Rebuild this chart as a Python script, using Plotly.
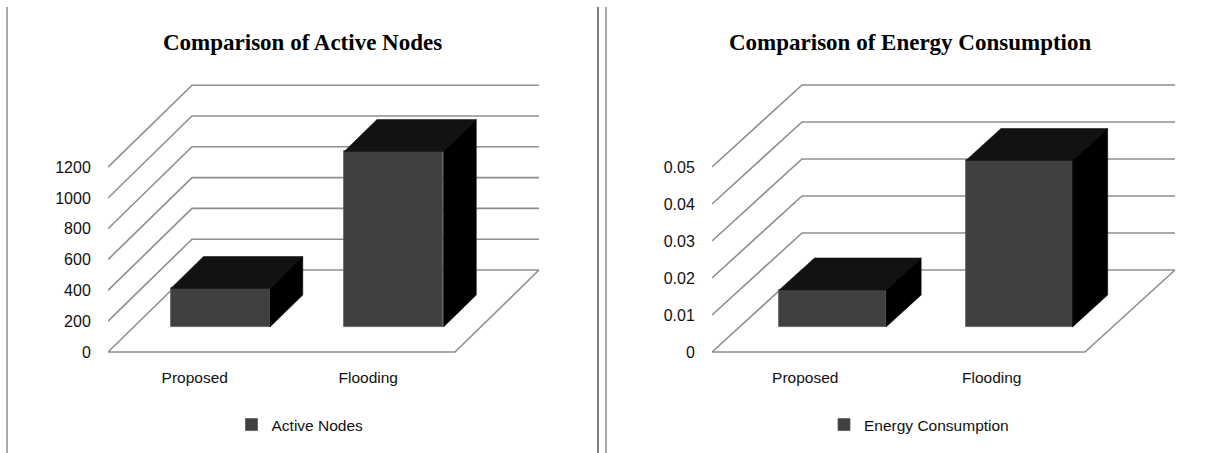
import plotly.graph_objects as go

# ---- data -------------------------------------------------------------
categories = ["Proposed", "Flooding"]

active_nodes = [250, 1140]
active_ticks = [0, 200, 400, 600, 800, 1000, 1200]
active_tick_labels = ["0", "200", "400", "600", "800", "1000", "1200"]

energy_consumption = [0.010, 0.045]
energy_ticks = [0, 0.01, 0.02, 0.03, 0.04, 0.05]
energy_tick_labels = ["0", "0.01", "0.02", "0.03", "0.04", "0.05"]

# ---- page geometry (pixels) -------------------------------------------
W, H = 1231, 453
FLOOR_Y = 352      # pixel row of the value-0 front edge
TOP_PX = 60        # top of plotting area
BOTTOM_PX = 366    # bottom of plotting area (category labels sit below)

D_FRONT, D_BACK = 0.305, 0.695   # bar depth span within the floor
BAR_W = 0.572                    # bar width as fraction of a category slot

SANS = "Liberation Sans Narrow, Liberation Sans, Arial, sans-serif"
TICK_FONT = dict(family=SANS, size=16, color="#111111")
LABEL_FONT = dict(family=SANS, size=15.5, color="#111111")
TITLE_FONT = dict(family="Liberation Serif, Times New Roman, serif", size=23,
                  color="#000000")

GRID_COLOR = "#8e8e8e"
FRONT_COLOR = "#404040"
TOP_COLOR = "#121212"
SIDE_COLOR = "#000000"

panels = [
    dict(title="Comparison of Active Nodes", series="Active Nodes",
         values=active_nodes, ticks=active_ticks, ticklabels=active_tick_labels,
         x0=108, slot=173.5, ddx=84, ddy=82, unit_px=30.8 / 200, right=560,
         title_x=302, legend_x=300),
    dict(title="Comparison of Energy Consumption", series="Energy Consumption",
         values=energy_consumption, ticks=energy_ticks, ticklabels=energy_tick_labels,
         x0=712, slot=186.5, ddx=90, ddy=82, unit_px=37 / 0.01, right=1200,
         title_x=910, legend_x=919),
]

fig = go.Figure()
shapes, annotations = [], []
layout_axes = {}

n = len(categories)
centers = [i + 0.5 for i in range(n)]

for k, p in enumerate(panels):
    sfx = "" if k == 0 else str(k + 1)
    xa, ya = "x" + sfx, "y" + sfx
    legend_name = "legend" if k == 0 else "legend" + str(k + 1)

    DX = p["ddx"] / p["slot"]        # depth shift in slot units
    DY = p["ddy"] / p["unit_px"]     # depth shift in value units

    def proj(s, v, d, DX=DX, DY=DY):
        return s + d * DX, v + d * DY

    # axis ranges derived from the pixel frame
    x_max = (p["right"] - p["x0"]) / p["slot"]
    y_min = -(BOTTOM_PX - FLOOR_Y) / p["unit_px"]
    y_max = (FLOOR_Y - TOP_PX) / p["unit_px"]

    layout_axes["xaxis" + sfx] = dict(
        domain=[p["x0"] / W, p["right"] / W], range=[0, x_max],
        anchor=ya, showgrid=False, zeroline=False, showline=False,
        tickmode="array", tickvals=centers, ticktext=categories,
        ticks="", tickfont=LABEL_FONT, fixedrange=True)
    layout_axes["yaxis" + sfx] = dict(
        domain=[1 - BOTTOM_PX / H, 1 - TOP_PX / H], range=[y_min, y_max],
        anchor=xa, showgrid=False, zeroline=False, showline=False,
        tickmode="array", tickvals=p["ticks"], ticktext=p["ticklabels"],
        ticks="outside", ticklen=13, tickcolor="rgba(0,0,0,0)",
        tickfont=TICK_FONT, fixedrange=True)

    # side wall diagonals + back wall gridlines
    path = ""
    for v in p["ticks"]:
        ax, ay = proj(0, v, 0)
        bx, by = proj(0, v, 1)
        cx, cy = proj(n, v, 1)
        path += f"M{ax},{ay} L{bx},{by} L{cx},{cy} "
    # floor front and right edges
    fx, fy = proj(0, 0, 0)
    gx, gy = proj(n, 0, 0)
    hx, hy = proj(n, 0, 1)
    path += f"M{fx},{fy} L{gx},{gy} L{hx},{hy}"
    shapes.append(dict(type="path", path=path, xref=xa, yref=ya, layer="below",
                       line=dict(color=GRID_COLOR, width=1.6)))

    # front faces of the bars
    fig.add_trace(go.Bar(
        x=[c + D_FRONT * DX for c in centers], y=p["values"],
        base=[D_FRONT * DY] * n, width=BAR_W, name=p["series"],
        marker=dict(color=FRONT_COLOR, line=dict(color="#5a5a5a", width=0.8)),
        xaxis=xa, yaxis=ya, legend=legend_name, showlegend=True,
        hoverinfo="skip"))

    # top and right-side faces
    tx, ty, sx, sy = [], [], [], []
    for c, v in zip(centers, p["values"]):
        l, r = c - BAR_W / 2, c + BAR_W / 2
        for pt in (proj(l, v, D_FRONT), proj(r, v, D_FRONT),
                   proj(r, v, D_BACK), proj(l, v, D_BACK), proj(l, v, D_FRONT)):
            tx.append(pt[0]); ty.append(pt[1])
        tx.append(None); ty.append(None)
        for pt in (proj(r, 0, D_FRONT), proj(r, 0, D_BACK),
                   proj(r, v, D_BACK), proj(r, v, D_FRONT), proj(r, 0, D_FRONT)):
            sx.append(pt[0]); sy.append(pt[1])
        sx.append(None); sy.append(None)

    fig.add_trace(go.Scatter(x=tx, y=ty, mode="lines", fill="toself",
                             fillcolor=TOP_COLOR, line=dict(color="#1a1a1a", width=0.6),
                             xaxis=xa, yaxis=ya, showlegend=False, hoverinfo="skip"))
    fig.add_trace(go.Scatter(x=sx, y=sy, mode="lines", fill="toself",
                             fillcolor=SIDE_COLOR, line=dict(color="#000000", width=0.6),
                             xaxis=xa, yaxis=ya, showlegend=False, hoverinfo="skip"))

    annotations.append(dict(text="<b>" + p["title"] + "</b>", x=p["title_x"] / W,
                            y=1 - 42 / H, xref="paper", yref="paper",
                            xanchor="center", yanchor="middle", showarrow=False,
                            font=TITLE_FONT))

    layout_axes[legend_name] = dict(
        x=p["legend_x"] / W, y=1 - 425 / H, xanchor="center", yanchor="middle",
        orientation="h", font=LABEL_FONT, bgcolor="rgba(0,0,0,0)",
        itemwidth=30, tracegroupgap=0)

# panel frame lines
for xpx, col in ((7, "#8a8a8a"), (598, "#555555"), (606, "#8a8a8a")):
    shapes.append(dict(type="line", xref="paper", yref="paper",
                       x0=xpx / W, x1=xpx / W, y0=0, y1=1 - 7 / H,
                       line=dict(color=col, width=1.5)))

fig.update_layout(
    width=W, height=H, margin=dict(l=0, r=0, t=0, b=0),
    paper_bgcolor="white", plot_bgcolor="white",
    bargap=0, showlegend=True,
    shapes=shapes, annotations=annotations,
    **layout_axes)

fig.write_html("out.html", config={"displayModeBar": False})
